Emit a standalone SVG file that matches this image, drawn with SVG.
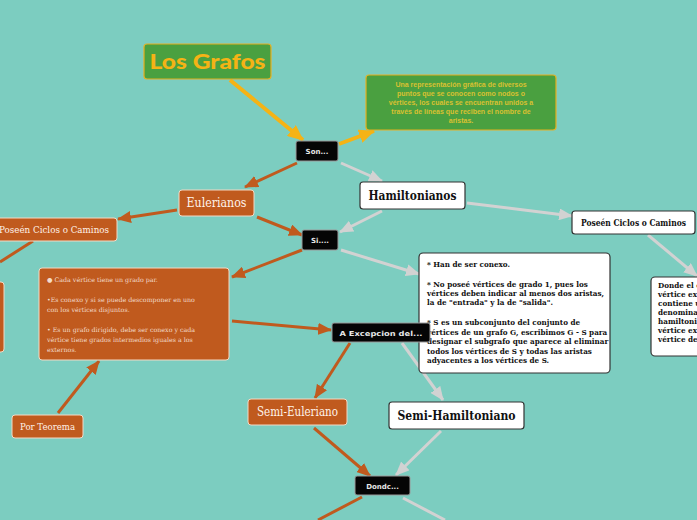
<svg xmlns="http://www.w3.org/2000/svg" width="697" height="520" viewBox="0 0 697 520">
<style>
.or{fill:#c05a1e;stroke:#f3d9c4;stroke-width:1}
.bk{fill:#050505;stroke:#9a9a9a;stroke-width:1}
.wh{fill:#ffffff;stroke:#333333;stroke-width:1.2}
.gr{fill:#4aa040;stroke:#e6b020;stroke-width:1.2}
.lo{stroke:#c05a1e;stroke-width:3;fill:none}
.lg{stroke:#d2d2d2;stroke-width:3;fill:none}
.ly{stroke:#f5b315;stroke-width:4;fill:none}
.tb{font-family:"DejaVu Sans",sans-serif;font-weight:bold;fill:#e8e8e8;font-size:7px;text-anchor:middle}
.tw{font-family:"DejaVu Serif",serif;fill:#fff3ea;text-anchor:middle}
.ts{font-family:"DejaVu Serif Condensed","DejaVu Serif",serif;font-weight:bold;fill:#111;}
.tsm{font-family:"DejaVu Serif Condensed","DejaVu Serif",serif;font-weight:bold;fill:#111;font-size:8px}
.tl{font-family:"DejaVu Serif",serif;fill:#f3dccb;font-size:6.3px}
.td{font-family:"Liberation Sans",sans-serif;font-weight:bold;fill:#d9c030;font-size:7px;text-anchor:middle}
</style>
<defs>
<marker id="ao" markerUnits="userSpaceOnUse" markerWidth="14" markerHeight="12" refX="13" refY="6" orient="auto"><path d="M0,0 L14,6 L0,12 z" fill="#c05a1e"/></marker>
<marker id="ag" markerUnits="userSpaceOnUse" markerWidth="14" markerHeight="12" refX="13" refY="6" orient="auto"><path d="M0,0 L14,6 L0,12 z" fill="#d2d2d2"/></marker>
<marker id="ay" markerUnits="userSpaceOnUse" markerWidth="16" markerHeight="14" refX="15" refY="7" orient="auto"><path d="M0,0 L16,7 L0,14 z" fill="#f5b315"/></marker>
</defs>
<rect width="697" height="520" fill="#7ccdc0"/>
<g id="connectors">
<line class="ly" x1="230" y1="80" x2="303" y2="140" marker-end="url(#ay)"/>
<line class="ly" x1="339" y1="144" x2="374" y2="131" marker-end="url(#ay)"/>
<line class="lg" x1="341" y1="163" x2="382" y2="181" marker-end="url(#ag)"/>
<line class="lo" x1="297" y1="163" x2="245" y2="187" marker-end="url(#ao)"/>
<line class="lo" x1="177" y1="210" x2="118" y2="219" marker-end="url(#ao)"/>
<line class="lo" x1="33" y1="241" x2="0" y2="262"/>
<line class="lo" x1="257" y1="217" x2="302" y2="235" marker-end="url(#ao)"/>
<line class="lg" x1="382" y1="211" x2="340" y2="232" marker-end="url(#ag)"/>
<line class="lg" x1="467" y1="203" x2="572" y2="216" marker-end="url(#ag)"/>
<line class="lg" x1="648" y1="235" x2="697" y2="276" marker-end="url(#ag)"/>
<line class="lo" x1="302" y1="250" x2="232" y2="277" marker-end="url(#ao)"/>
<line class="lg" x1="341" y1="250" x2="419" y2="274" marker-end="url(#ag)"/>
<line class="lo" x1="232" y1="321" x2="331" y2="330" marker-end="url(#ao)"/>
<line class="lo" x1="58" y1="413" x2="99" y2="361" marker-end="url(#ao)"/>
<line class="lo" x1="350" y1="343" x2="315" y2="398" marker-end="url(#ao)"/>
<line class="lg" x1="402" y1="343" x2="443" y2="400" marker-end="url(#ag)"/>
<line class="lo" x1="314" y1="428" x2="370" y2="476" marker-end="url(#ao)"/>
<line class="lg" x1="441" y1="431" x2="396" y2="475" marker-end="url(#ag)"/>
<line class="lo" x1="362" y1="497" x2="318" y2="520"/>
<line class="lg" x1="403" y1="498" x2="445" y2="520"/>
</g>
<g id="los-grafos">
<rect class="gr" x="144" y="44" width="127" height="35" rx="3"/>
<text x="207.5" y="69" font-family="Lato,'Open Sans',sans-serif" font-weight="900" font-size="21" fill="#f5b315" text-anchor="middle" textLength="116" lengthAdjust="spacingAndGlyphs">Los Grafos</text>
</g>
<g id="definicion">
<rect class="gr" x="366" y="75" width="190" height="55" rx="3"/>
<text class="td" x="461" y="87">Una representación gráfica de diversos</text>
<text class="td" x="461" y="96">puntos que se conocen como nodos o</text>
<text class="td" x="461" y="105">vértices, los cuales se encuentran unidos a</text>
<text class="td" x="461" y="114">través de líneas que reciben el nombre de</text>
<text class="td" x="461" y="123">aristas.</text>
</g>
<g id="son">
<rect class="bk" x="296" y="141" width="42" height="20" rx="2"/>
<text class="tb" x="317" y="154">Son...</text>
</g>
<g id="hamiltonianos">
<rect class="wh" x="360" y="182" width="105" height="27" rx="3"/>
<text class="ts" x="412.5" y="200" font-size="13" text-anchor="middle" textLength="88" lengthAdjust="spacingAndGlyphs">Hamiltonianos</text>
</g>
<g id="eulerianos">
<rect class="or" x="179" y="190" width="75" height="26" rx="3"/>
<text class="tw" x="216.5" y="207" font-size="12" textLength="60" lengthAdjust="spacingAndGlyphs">Eulerianos</text>
</g>
<g id="poseen-euler">
<rect class="or" x="-10" y="218" width="127" height="23" rx="3"/>
<text class="tw" x="54" y="233" font-size="8.5" textLength="110" lengthAdjust="spacingAndGlyphs">Poseén Ciclos o Caminos</text>
</g>
<g id="left-partial">
<rect class="or" x="-10" y="282" width="14" height="70" rx="3"/>
</g>
<g id="poseen-hamilton">
<rect class="wh" x="572" y="211" width="123" height="23" rx="3"/>
<text class="ts" x="633.5" y="226" font-size="8.5" text-anchor="middle" textLength="105" lengthAdjust="spacingAndGlyphs">Poseén Ciclos o Caminos</text>
</g>
<g id="si">
<rect class="bk" x="302" y="230" width="36" height="20" rx="2"/>
<text class="tb" x="320" y="243">Si....</text>
</g>
<g id="propiedades-euler">
<rect class="or" x="39" y="268" width="190" height="92" rx="3"/>
<text class="tl" x="47" y="282">● Cada vértice tiene un grado par.</text>
<text class="tl" x="47" y="302">•Es conexo y si se puede descomponer en uno</text>
<text class="tl" x="47" y="312">con los vértices disjuntos.</text>
<text class="tl" x="47" y="332">• Es un grafo dirigido, debe ser conexo y cada</text>
<text class="tl" x="47" y="342">vértice tiene grados intermedios iguales a los</text>
<text class="tl" x="47" y="352">externos.</text>
</g>
<g id="propiedades-hamilton">
<rect class="wh" x="419" y="253" width="191" height="120" rx="4"/>
<text class="tsm" x="427" y="267">* Han de ser conexo.</text>
<text class="tsm" x="427" y="287">* No poseé vértices de grado 1, pues los</text>
<text class="tsm" x="427" y="296">vértices deben indicar al menos dos aristas,</text>
<text class="tsm" x="427" y="305">la de "entrada" y la de "salida".</text>
<text class="tsm" x="427" y="325">* S es un subconjunto del conjunto de</text>
<text class="tsm" x="427" y="335">vértices de un grafo G, escribimos G - S para</text>
<text class="tsm" x="427" y="344">designar el subgrafo que aparece al eliminar</text>
<text class="tsm" x="427" y="354">todos los vértices de S y todas las aristas</text>
<text class="tsm" x="427" y="363">adyacentes a los vértices de S.</text>
</g>
<g id="donde-hamilton">
<rect class="wh" x="651" y="277" width="60" height="79" rx="4"/>
<text class="tsm" x="658" y="288">Donde el c</text>
<text class="tsm" x="658" y="297">vértice ex</text>
<text class="tsm" x="658" y="306">contiene u</text>
<text class="tsm" x="658" y="315">denomina</text>
<text class="tsm" x="658" y="324">hamiltoni</text>
<text class="tsm" x="658" y="333">vértice ex</text>
<text class="tsm" x="658" y="342">vértice de</text>
</g>
<g id="excepcion">
<rect class="bk" x="332" y="323" width="98" height="19" rx="2"/>
<text class="tb" x="381" y="336" font-size="8" textLength="83" lengthAdjust="spacingAndGlyphs">A Excepcion del...</text>
</g>
<g id="por-teorema">
<rect class="or" x="12" y="415" width="71" height="23" rx="3"/>
<text class="tw" x="47.5" y="430" font-size="8.5" textLength="55" lengthAdjust="spacingAndGlyphs">Por Teorema</text>
</g>
<g id="semi-euleriano">
<rect class="or" x="248" y="399" width="99" height="26" rx="3"/>
<text class="tw" x="297.5" y="416" font-size="12" textLength="81" lengthAdjust="spacingAndGlyphs">Semi-Euleriano</text>
</g>
<g id="semi-hamiltoniano">
<rect class="wh" x="389" y="402" width="135" height="27" rx="3"/>
<text class="ts" x="456.5" y="420" font-size="12.5" text-anchor="middle" textLength="118" lengthAdjust="spacingAndGlyphs">Semi-Hamiltoniano</text>
</g>
<g id="donde">
<rect class="bk" x="355" y="476" width="55" height="19" rx="2"/>
<text class="tb" x="382.5" y="489">Dondc...</text>
</g>
</svg>
